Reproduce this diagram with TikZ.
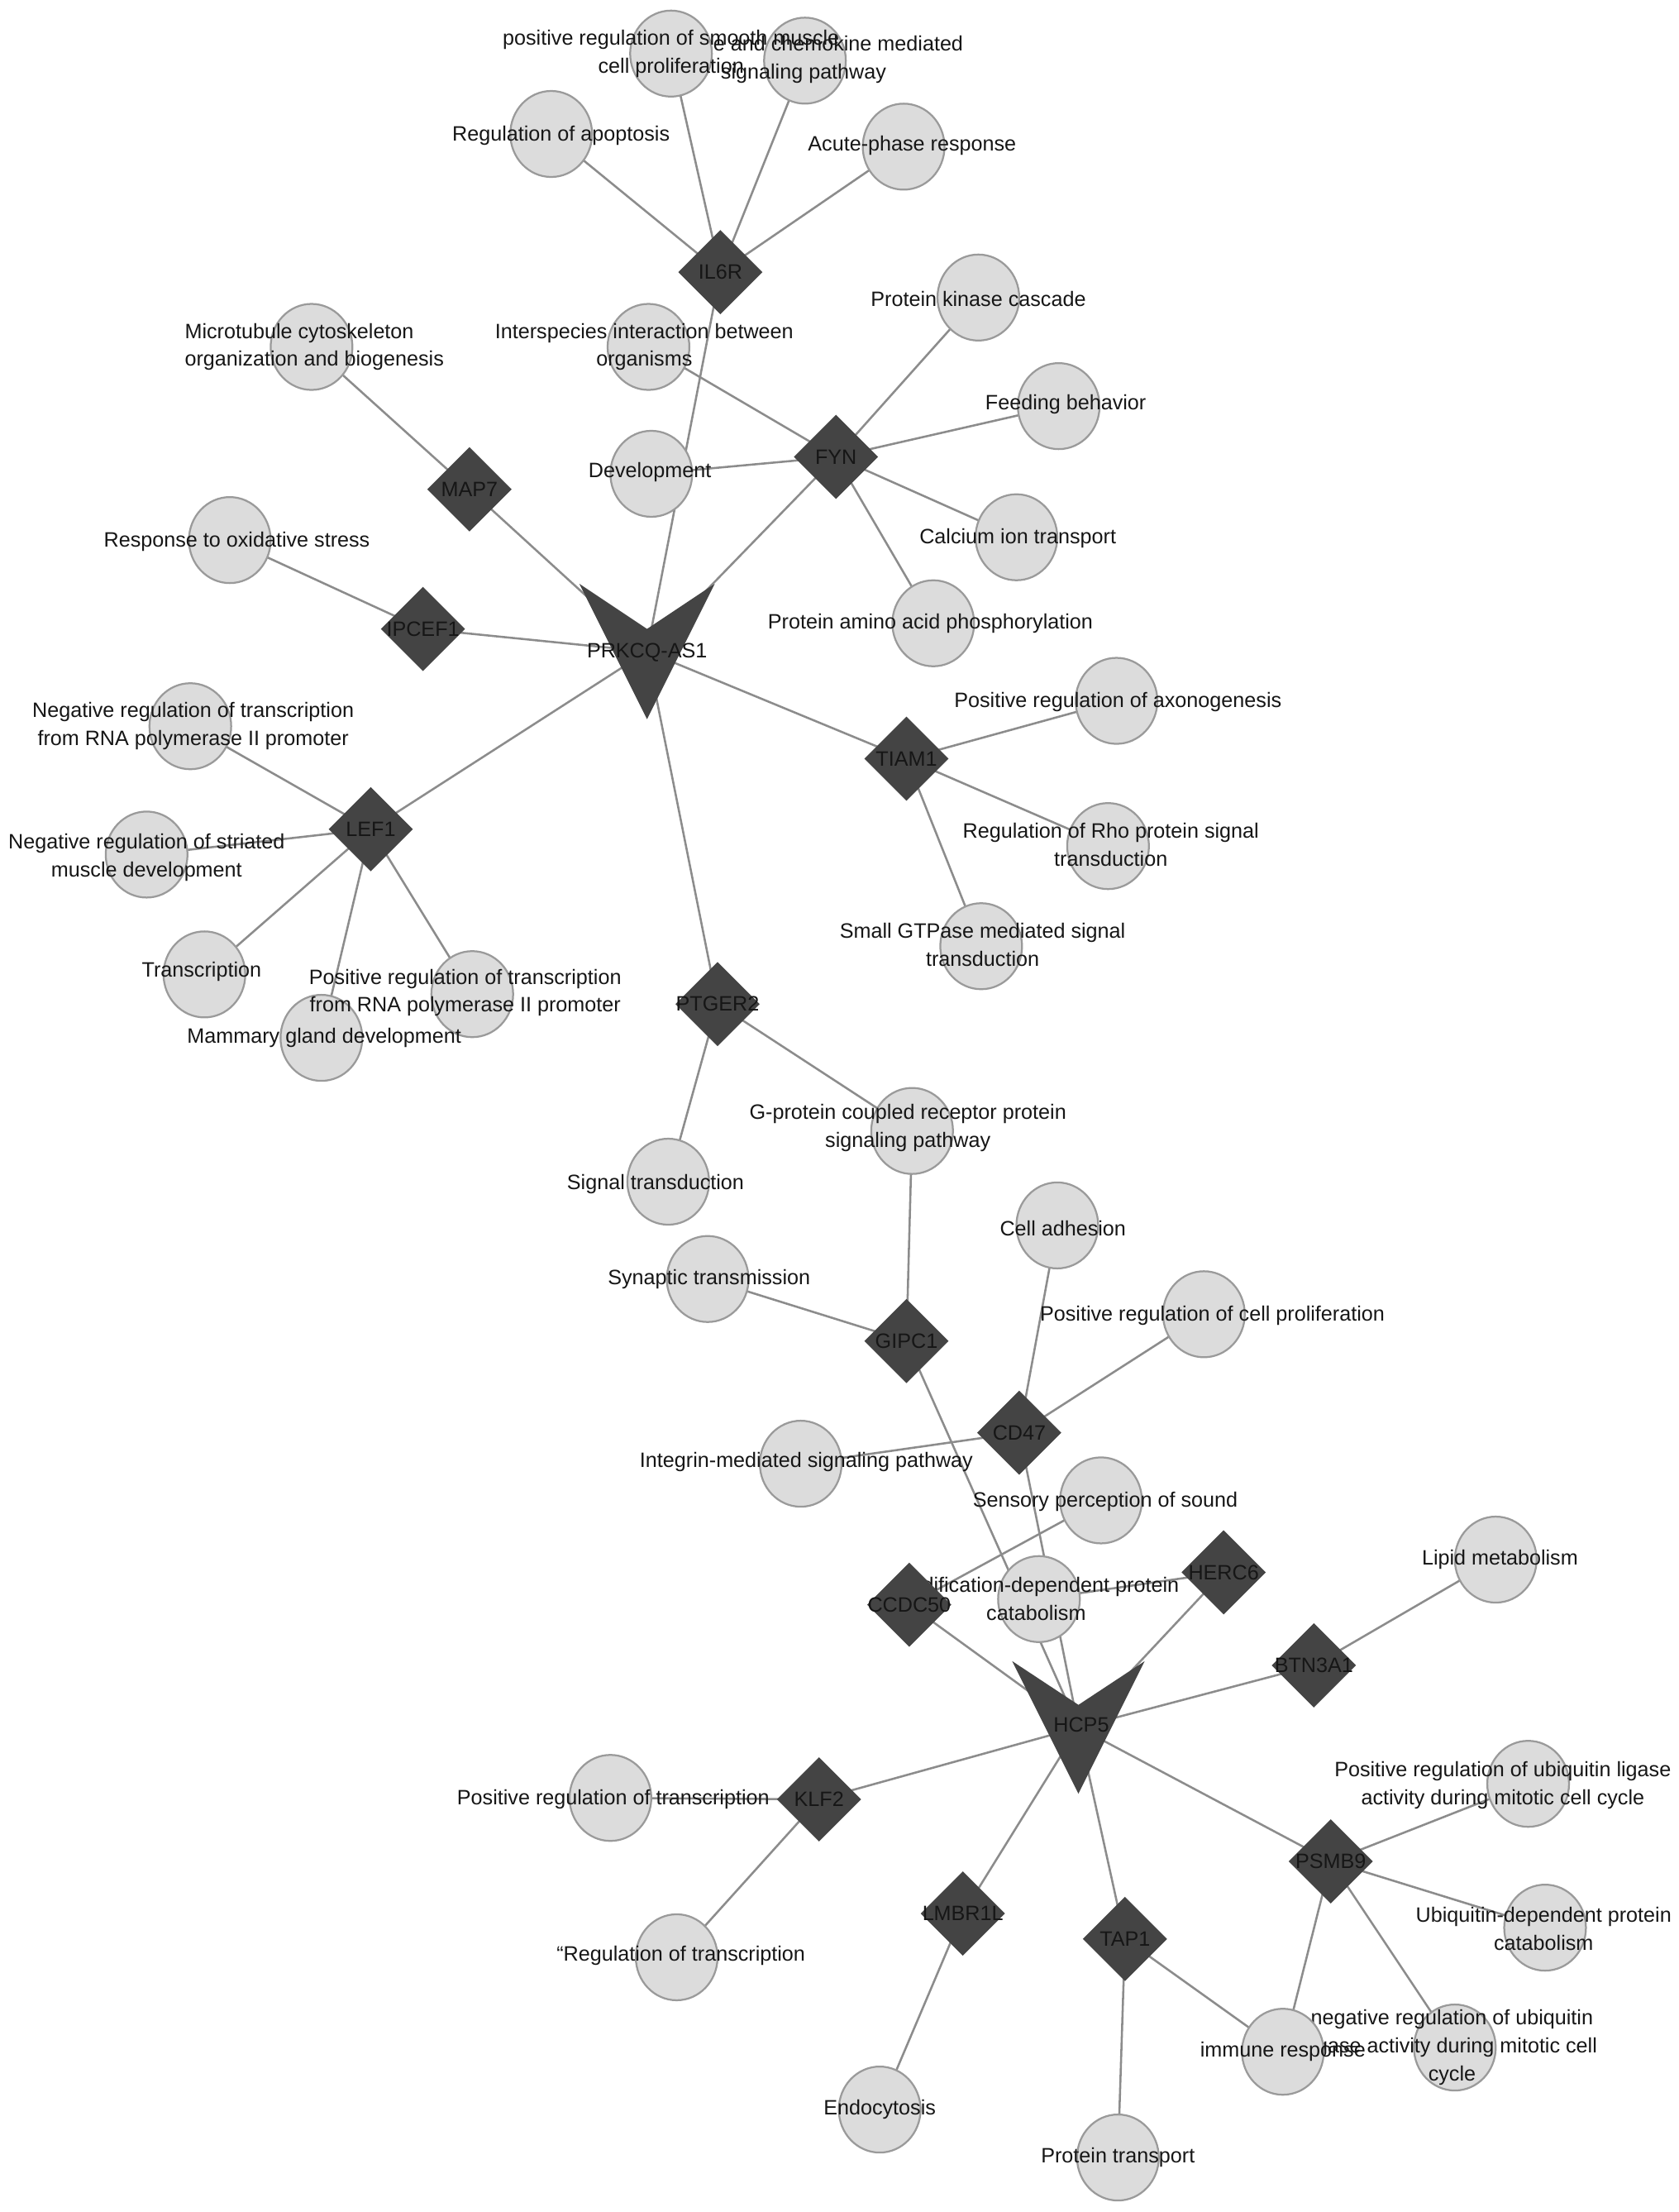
\documentclass[tikz,border=0pt]{standalone}
\usepackage{fontspec}
\usetikzlibrary{shapes.geometric,calc}
\newfontfamily\lbf{Liberation Sans}
\newcommand\lbfont{\lbf\fontsize{8.4}{11.3}\selectfont}
\definecolor{gofill}{HTML}{DCDCDC}
\definecolor{gobord}{HTML}{9A9A9A}
\definecolor{genefill}{HTML}{444444}
\definecolor{edgec}{HTML}{8C8C8C}
\definecolor{txt}{HTML}{161616}
\pgfdeclarelayer{bg}
\pgfdeclarelayer{edges}
\pgfdeclarelayer{labels}
\pgfsetlayers{bg,edges,main,labels}
\tikzset{
  go/.style={ellipse, draw=gobord, fill=gofill, line width=0.75pt, minimum width=1.16cm, minimum height=1.22cm, inner sep=0pt},
  gene/.style={diamond, fill=genefill, minimum width=1.2cm, minimum height=1.2cm, inner sep=0pt},
  hubc/.style={circle, inner sep=0pt, minimum size=0pt},
  lbl/.style={font=\lbfont, text=txt, align=center, inner sep=0pt},
  link/.style={draw=edgec, line width=0.85pt},
}
\begin{document}
\begin{tikzpicture}[x=0.02cm,y=-0.02cm]
\begin{pgfonlayer}{bg}
\fill[white] (0,0) rectangle (1191,1568.66);
\end{pgfonlayer}
\useasboundingbox (0,0) rectangle (1191,1568.66);

% ---------- hubs ----------
\node[hubc] (prk) at (459,462) {};
\node[hubc] (hcp) at (765,1225) {};
\fill[genefill] ($(prk)+(-48,-48)$) -- ($(prk)+(0,-16)$) -- ($(prk)+(48,-48)$) -- ($(prk)+(0,48)$) -- cycle;
\fill[genefill] ($(hcp)+(-47,-47)$) -- ($(hcp)+(0,-16)$) -- ($(hcp)+(47,-47)$) -- ($(hcp)+(0,47)$) -- cycle;

% ---------- genes ----------
\node[gene] (il6r) at (511,193) {};
\node[gene] (fyn) at (593,324) {};
\node[gene] (map7) at (333,347) {};
\node[gene] (ipcef) at (300,446) {};
\node[gene] (lef1) at (263,588) {};
\node[gene] (tiam) at (643,538) {};
\node[gene] (ptger) at (509,712) {};
\node[gene] (gipc) at (643,951) {};
\node[gene] (cd47) at (723,1016) {};
\node[gene] (herc) at (868,1115) {};
\node[gene] (btn) at (932,1181) {};
\node[gene] (klf2) at (581,1276) {};
\node[gene] (lmbr) at (683,1357) {};
\node[gene] (tap1) at (798,1375) {};
\node[gene] (psmb) at (944,1320) {};

% ---------- GO terms ----------
\node[go] (cyto) at (571,43) {};
\node[lbl] (cyto-t) at (570,42) {Cytokine and chemokine mediated\\signaling pathway};
\node[go] (smooth) at (476,38) {};
\node[go] (apop) at (391,95) {};
\node[go] (acute) at (641,104) {};
\node[go] (pkc) at (694,211) {};
\node[go] (inter) at (460,246) {};
\node[go] (dev) at (462,336) {};
\node[go] (feed) at (751,288) {};
\node[go] (calc) at (721,381) {};
\node[go] (paap) at (662,442) {};
\node[go] (micro) at (221,246) {};
\node[go] (oxid) at (163,383) {};
\node[go] (negtr) at (135,515) {};
\node[go] (stri) at (104,606) {};
\node[go] (trans) at (145,691) {};
\node[go] (mamm) at (228,736) {};
\node[go] (posrna) at (335,705) {};
\node[go] (axon) at (792,497) {};
\node[go] (rho) at (786,600) {};
\node[go] (gtp) at (696,671) {};
\node[go] (sigt) at (474,838) {};
\node[go] (gprot) at (647,802) {};
\node[go] (syn) at (502,907) {};
\node[go] (adh) at (750,869) {};
\node[go] (prolif) at (854,932) {};
\node[go] (integ) at (568,1038) {};
\node[go] (sens) at (781,1064) {};
\node[go] (modif) at (737,1134) {};
\node[lbl] (modif-t) at (735,1134) {Modification-dependent protein\\catabolism};
\node[gene] (ccdc) at (645,1138) {};
\node[go] (lipid) at (1061,1106) {};
\node[go] (prt) at (433,1275) {};
\node[go] (reg) at (480,1388) {};
\node[go] (endo) at (624,1496) {};
\node[go] (ptrans) at (793,1530) {};
\node[go] (negub) at (1032,1452) {};
\node[lbl] (negub-t) at (1030,1452) {negative regulation of ubiquitin\\ligase activity during mitotic cell\\cycle};
\node[go] (immune) at (910,1455) {};
\node[go] (posub) at (1084,1265) {};
\node[go] (ubdep) at (1096,1367) {};

% ---------- edges ----------
\begin{pgfonlayer}{edges}
\foreach \a/\b in {il6r/apop, il6r/smooth, il6r/cyto, il6r/acute, il6r/prk,
  fyn/inter, fyn/dev, fyn/pkc, fyn/feed, fyn/calc, fyn/paap, fyn/prk,
  map7/micro, map7/prk, ipcef/oxid, ipcef/prk,
  lef1/negtr, lef1/stri, lef1/trans, lef1/mamm, lef1/posrna, lef1/prk,
  tiam/axon, tiam/rho, tiam/gtp, tiam/prk,
  ptger/sigt, ptger/gprot, ptger/prk,
  gipc/gprot, gipc/syn, gipc/hcp,
  cd47/adh, cd47/prolif, cd47/integ, cd47/hcp,
  ccdc/sens, ccdc/hcp, herc/modif, herc/hcp, btn/lipid, btn/hcp,
  klf2/prt, klf2/reg, klf2/hcp, lmbr/endo, lmbr/hcp,
  tap1/ptrans, tap1/immune, tap1/hcp,
  psmb/posub, psmb/ubdep, psmb/negub, psmb/immune, psmb/hcp}
  \draw[link] (\a.center) -- (\b.center);
\end{pgfonlayer}

% ---------- labels ----------
\begin{pgfonlayer}{labels}
\node[lbl] (prk-t) at (459,463) {PRKCQ-AS1};
\node[lbl] (hcp-t) at (767,1223) {HCP5};
\node[lbl] (il6r-t) at (il6r) {IL6R};
\node[lbl] (fyn-t) at (fyn) {FYN};
\node[lbl] (map7-t) at (map7) {MAP7};
\node[lbl] (ipcef-t) at (ipcef) {IPCEF1};
\node[lbl] (lef1-t) at (lef1) {LEF1};
\node[lbl] (tiam-t) at (tiam) {TIAM1};
\node[lbl] (ptger-t) at (ptger) {PTGER2};
\node[lbl] (gipc-t) at (gipc) {GIPC1};
\node[lbl] (cd47-t) at (cd47) {CD47};
\node[lbl] (ccdc-t) at (ccdc) {CCDC50};
\node[lbl] (herc-t) at (herc) {HERC6};
\node[lbl] (btn-t) at (btn) {BTN3A1};
\node[lbl] (klf2-t) at (klf2) {KLF2};
\node[lbl] (lmbr-t) at (lmbr) {LMBR1L};
\node[lbl] (tap1-t) at (tap1) {TAP1};
\node[lbl] (psmb-t) at (psmb) {PSMB9};

\node[lbl] (smooth-t) at (476,38) {positive regulation of smooth muscle\\cell proliferation};
\node[lbl] (apop-t) at (398,96) {Regulation of apoptosis};
\node[lbl] (acute-t) at (647,103) {Acute-phase response};
\node[lbl] (pkc-t) at (694,212) {Protein kinase cascade};
\node[lbl] (inter-t) at (457,246) {Interspecies interaction between\\organisms};
\node[lbl] (dev-t) at (461,335) {Development};
\node[lbl] (feed-t) at (756,287) {Feeding behavior};
\node[lbl] (calc-t) at (722,382) {Calcium ion transport};
\node[lbl] (paap-t) at (660,442) {Protein amino acid phosphorylation};
\node[lbl, align=left] (micro-t) at (223,246) {Microtubule cytoskeleton\\organization and biogenesis};
\node[lbl] (oxid-t) at (168,384) {Response to oxidative stress};
\node[lbl] (negtr-t) at (137,515) {Negative regulation of transcription\\from RNA polymerase II promoter};
\node[lbl] (stri-t) at (104,608) {Negative regulation of striated\\muscle development};
\node[lbl] (trans-t) at (143,689) {Transcription};
\node[lbl] (mamm-t) at (230,736) {Mammary gland development};
\node[lbl] (posrna-t) at (330,704) {Positive regulation of transcription\\from RNA polymerase II promoter};
\node[lbl] (axon-t) at (793,498) {Positive regulation of axonogenesis};
\node[lbl] (rho-t) at (788,599) {Regulation of Rho protein signal\\transduction};
\node[lbl] (gtp-t) at (697,670) {Small GTPase mediated signal\\transduction};
\node[lbl] (sigt-t) at (465,840) {Signal transduction};
\node[lbl] (gprot-t) at (644,800) {G-protein coupled receptor protein\\signaling pathway};
\node[lbl] (syn-t) at (503,907) {Synaptic transmission};
\node[lbl] (adh-t) at (754,871) {Cell adhesion};
\node[lbl] (prolif-t) at (860,933) {Positive regulation of cell proliferation};
\node[lbl] (integ-t) at (572,1037) {Integrin-mediated signaling pathway};
\node[lbl] (sens-t) at (784,1065) {Sensory perception of sound};
\node[lbl] (lipid-t) at (1064,1106) {Lipid metabolism};
\node[lbl] (prt-t) at (435,1276) {Positive regulation of transcription};
\node[lbl] (reg-t) at (483,1387) {“Regulation of transcription};
\node[lbl] (endo-t) at (624,1496) {Endocytosis};
\node[lbl] (ptrans-t) at (793,1530) {Protein transport};
\node[lbl] (immune-t) at (910,1455) {immune response};
\node[lbl] (posub-t) at (1066,1266) {Positive regulation of ubiquitin ligase\\activity during mitotic cell cycle};
\node[lbl] (ubdep-t) at (1095,1368) {Ubiquitin-dependent protein\\catabolism};
\end{pgfonlayer}
\end{tikzpicture}
\end{document}
